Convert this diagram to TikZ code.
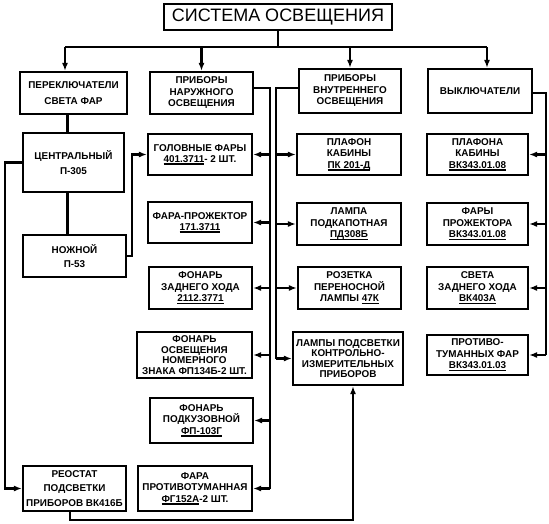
\documentclass[tikz,border=0pt]{standalone}
\usepackage{fontspec}
\setmainfont{Liberation Sans}
\usetikzlibrary{arrows.meta}
\newcommand\uln[1]{\setbox0\hbox{#1}\rlap{\rule[-2.2pt]{\wd0}{1.4pt}}\box0}
\begin{document}
\begin{tikzpicture}[x=1pt,y=-1pt,
  box/.style={draw, line width=2.1pt, fill=white, align=center, inner sep=1pt,
    font=\fontsize{9.9}{11.5}\selectfont\bfseries},
  bx/.style n args={2}{box, minimum width=#1, minimum height=#2},
  wide/.style={font=\fontsize{9.9}{14.5}\selectfont\bfseries},
  tight/.style={font=\fontsize{9.9}{10.6}\selectfont\bfseries},
  wire/.style={line width=2.1pt},
  arr/.style={wire, -{Latex[length=8pt,width=6pt]}}]
\useasboundingbox (0,0) rectangle (549,523);

\node[draw, line width=2.1pt, minimum width=228pt, minimum height=26pt, inner sep=0pt,
  font=\fontsize{18}{20}\selectfont] (title) at (278,17) {СИСТЕМА ОСВЕЩЕНИЯ};

\node[bx={107pt}{42pt}, font=\fontsize{9.9}{16}\selectfont\bfseries] (p1) at (73.5,93) {ПЕРЕКЛЮЧАТЕЛИ\\СВЕТА ФАР};
\node[bx={103pt}{42pt}] (p2) at (201.5,93) {ПРИБОРЫ\\НАРУЖНОГО\\ОСВЕЩЕНИЯ};
\node[bx={102pt}{44pt}] (p3) at (350,91) {ПРИБОРЫ\\ВНУТРЕННЕГО\\ОСВЕЩЕНИЯ};
\node[bx={104pt}{44pt}] (p4) at (480,91) {ВЫКЛЮЧАТЕЛИ};

\node[bx={101pt}{59pt}, wide] (c1) at (73.5,162.5) {ЦЕНТРАЛЬНЫЙ\\П-305};
\node[bx={103pt}{42pt}, wide] (c2) at (74.5,256) {НОЖНОЙ\\П-53};
\node[bx={103pt}{45pt}, wide] (reo) at (74.5,488.5) {РЕОСТАТ\\ПОДСВЕТКИ\\ПРИБОРОВ ВК416Б};

\node[bx={104pt}{41pt}] (hf) at (200,154.5) {ГОЛОВНЫЕ ФАРЫ\\\uln{401.3711} - 2 ШТ.};
\node[bx={104pt}{41pt}] (fp) at (200,222.5) {ФАРА-ПРОЖЕКТОР\\\uln{171.3711}};
\node[bx={103pt}{42pt}] (fz) at (200.5,288) {ФОНАРЬ\\ЗАДНЕГО ХОДА\\\uln{2112.3771}};
\node[bx={115pt}{46pt}, tight] (fn) at (194.5,355) {ФОНАРЬ\\ОСВЕЩЕНИЯ\\НОМЕРНОГО\\ЗНАКА ФП134Б-2 ШТ.};
\node[bx={103pt}{45pt}] (fk) at (201.5,420.5) {ФОНАРЬ\\ПОДКУЗОВНОЙ\\\uln{ФП-103Г}};
\node[bx={114pt}{45pt}] (ftm) at (195,488.5) {ФАРА\\ПРОТИВОТУМАННАЯ\\\uln{ФГ152А}-2 ШТ.};

\node[bx={104pt}{41pt}] (pk) at (349,154.5) {ПЛАФОН\\КАБИНЫ\\\uln{ПК 201-Д}};
\node[bx={104pt}{42pt}] (pd) at (349,224) {ЛАМПА\\ПОДКАПОТНАЯ\\\uln{ПД308Б}};
\node[bx={103pt}{42pt}] (rz) at (349.5,288) {РОЗЕТКА\\ПЕРЕНОСНОЙ\\ЛАМПЫ \uln{47К}};
\node[bx={110pt}{53pt}, tight] (lp) at (348,358.5) {ЛАМПЫ ПОДСВЕТКИ\\КОНТРОЛЬНО-\\ИЗМЕРИТЕЛЬНЫХ\\ПРИБОРОВ};

\node[bx={101pt}{41pt}] (v1) at (477.5,154.5) {ПЛАФОНА\\КАБИНЫ\\\uln{ВК343.01.08}};
\node[bx={101pt}{42pt}] (v2) at (477.5,224) {ФАРЫ\\ПРОЖЕКТОРА\\\uln{ВК343.01.08}};
\node[bx={101pt}{42pt}] (v3) at (477.5,288) {СВЕТА\\ЗАДНЕГО ХОДА\\\uln{ВК403А}};
\node[bx={101pt}{40pt}] (v4) at (477.5,355) {ПРОТИВО-\\ТУМАННЫХ ФАР\\\uln{ВК343.01.03}};

% top distribution
\coordinate (top) at (278,47);
\coordinate (a1) at (65,47);
\coordinate (a4) at (487,47);
\draw[wire] (title.south) -- (top);
\draw[wire] (a1) -- (a4);
\draw[arr] (a1) -- (a1 |- p1.north);
\draw[arr] (p2.north |- top) -- (p2.north);
\draw[arr] (p3.north |- top) -- (p3.north);
\draw[arr] (a4) -- (a4 |- p4.north);

% switches column
\draw[wire] ([xshift=-6pt]p1.south) -- ([xshift=-6pt]p1.south |- c1.north);
\draw[wire] ([xshift=-6pt]c1.south) -- ([xshift=-6pt]c1.south |- c2.north);
\coordinate (bl) at (5,0);
\draw[arr] (c1.west) -- (bl |- c1.west) -- (bl |- reo.west) -- (reo.west);
\coordinate (bn) at (132,0);
\draw[arr] (c2.east) -- (bn |- c2.east) -- (bn |- hf.west) -- (hf.west);
\coordinate (bb) at (0,520);
\draw[arr] ([xshift=-4.5pt]reo.south) -- ([xshift=-4.5pt]reo.south |- bb) -| ([xshift=5pt]lp.south);

% outer lighting bus
\coordinate (bo) at (270,0);
\draw[wire] ([yshift=5pt]p2.east) -| (bo |- ftm.east);
\foreach \n in {hf,fp,fz,fn,fk,ftm}{\draw[arr] (bo |- \n.east) -- (\n.east);}

% inner lighting bus
\coordinate (bi) at (276,0);
\draw[wire] ([yshift=3pt]p3.west) -| (bi |- lp.west);
\foreach \n in {pk,pd,rz,lp}{\draw[arr] (bi |- \n.west) -- (\n.west);}

% switches bus
\coordinate (br) at (546,0);
\draw[wire] ([yshift=-2pt]p4.east) -| (br |- v4.east);
\foreach \n in {v1,v2,v3,v4}{\draw[arr] (br |- \n.east) -- (\n.east);}
\end{tikzpicture}
\end{document}
